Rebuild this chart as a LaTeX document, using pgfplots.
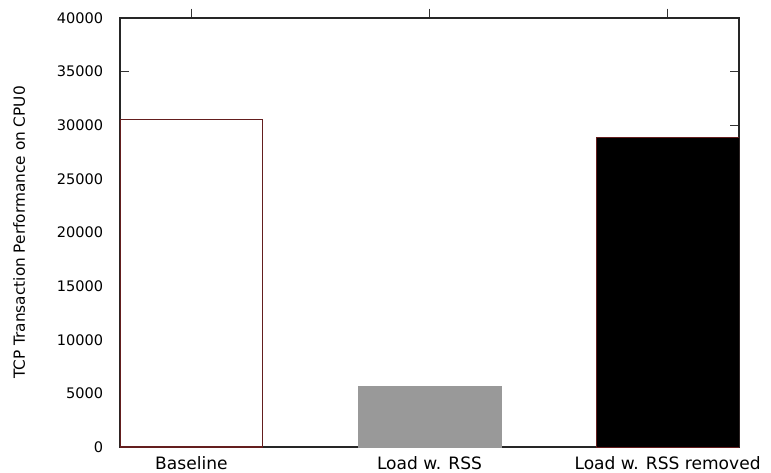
\documentclass[border=0pt]{standalone}
\usepackage{fontspec}
\setmainfont{DejaVu Sans}
\usepackage{pgfplots}
\pgfplotsset{compat=1.18}
\definecolor{edgered}{RGB}{100,30,30}
\definecolor{bargray}{RGB}{153,153,153}
\begin{document}
\begin{tikzpicture}
\useasboundingbox (-90pt,-18.75pt) rectangle (488.25pt,335.25pt);
\begin{axis}[
  at={(0pt,0pt)}, anchor=south west,
  scale only axis, width=464.25pt, height=321.75pt,
  xmin=-0.3, xmax=2.3, ymin=0, ymax=40000,
  xtick={0,1,2},
  xticklabels={Baseline, Load w. RSS, Load w. RSS removed},
  xtick pos=upper, xticklabel pos=lower,
  ytick={0,5000,...,40000},
  ytick pos=both, yticklabel pos=left,
  tick align=inside,
  major tick length=7pt,
  tick style={black!80, line width=0.8pt},
  scaled y ticks=false,
  /pgf/number format/1000 sep={},
  /pgf/number format/assume math mode=true,
  yticklabel style={font=\fontsize{10.9}{13}\selectfont, inner xsep=0pt, xshift=-12.5pt},
  xticklabel style={font=\fontsize{12.8}{14}\selectfont, inner ysep=0pt, yshift=0pt},
  ylabel={TCP Transaction Performance on CPU0},
  ylabel style={at={(axis description cs:-0.163,0.5)}, anchor=center, font=\fontsize{11.5}{13}\selectfont},
  axis line style={black!85, line width=0.9pt},
  ybar, bar width=0.6, bar shift=0pt,
]
\addplot[fill=white, draw=edgered, line width=0.8pt] coordinates {(0,30500)};
\addplot[fill=bargray, draw=bargray] coordinates {(1,5700)};
\addplot[fill=black, draw=edgered] coordinates {(2,28900)};
\end{axis}
\end{tikzpicture}
\end{document}
